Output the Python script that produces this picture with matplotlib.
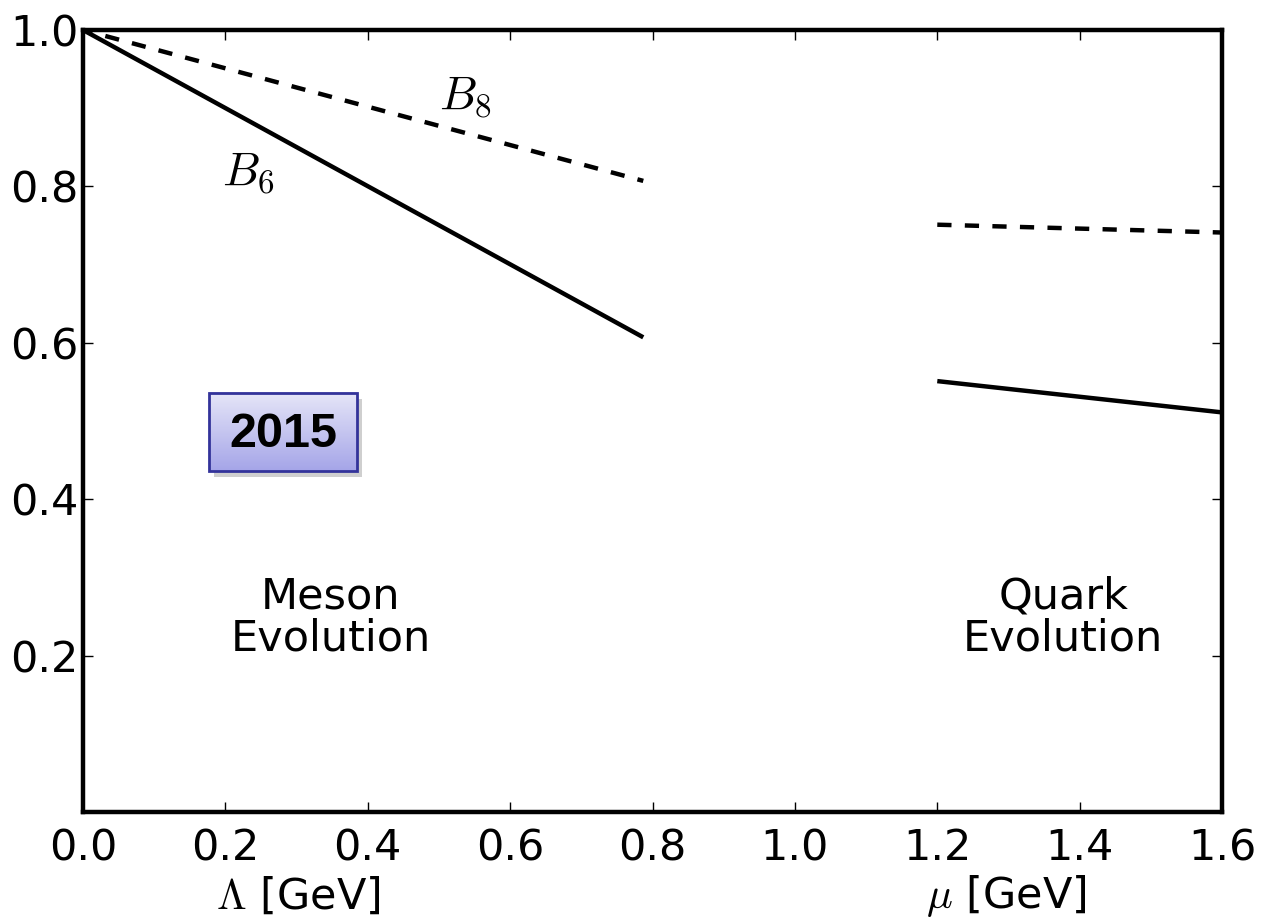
import numpy as np
import matplotlib
matplotlib.use('Agg')
import matplotlib.pyplot as plt
from matplotlib.patches import Rectangle

plt.rcParams['mathtext.fontset'] = 'cm'
plt.rcParams['font.family'] = 'DejaVu Sans'

# Meson evolution (Lambda scale)
meson_x = [0.0, 0.787]
meson_B6 = [1.0, 0.607]
meson_B8 = [1.0, 0.807]

# Quark evolution (mu scale)
quark_x = [1.2, 1.6]
quark_B6 = [0.551, 0.511]
quark_B8 = [0.751, 0.741]

xticks = [0.0, 0.2, 0.4, 0.6, 0.8, 1.0, 1.2, 1.4, 1.6]
yticks = [0.2, 0.4, 0.6, 0.8, 1.0]

fig = plt.figure(figsize=(12.69, 9.19), dpi=100)
ax = fig.add_axes([0.0654, 0.1164, 0.8976, 0.851])

ax.plot(meson_x, meson_B6, color='black', lw=3.2, solid_capstyle='butt')
ax.plot(meson_x, meson_B8, color='black', lw=3.2, ls=(1.0, (3.2, 3.0)))
ax.plot(quark_x, quark_B6, color='black', lw=3.2, solid_capstyle='butt')
ax.plot(quark_x, quark_B8, color='black', lw=3.2, ls=(0, (3.2, 3.0)))

ax.text(0.195, 0.818, r'$B_6$', fontsize=34, ha='left', va='center')
ax.text(0.50, 0.915, r'$B_8$', fontsize=34, ha='left', va='center')

ax.text(0.348, 0.249, 'Meson\nEvolution', fontsize=31, ha='center', va='center',
        linespacing=1.0)
ax.text(1.377, 0.249, 'Quark\nEvolution', fontsize=31, ha='center', va='center',
        linespacing=1.0)

# "2015" badge with gradient fill and shadow
bx0, bx1 = (209 - 83) / 1139, (357 - 83) / 1139
by0, by1 = (812 - 471) / 782, (812 - 393) / 782
shadow = Rectangle((bx0 + 0.004, by0 - 0.008), bx1 - bx0, by1 - by0,
                   transform=ax.transAxes, facecolor='#a8a8a8', edgecolor='none',
                   alpha=0.55, zorder=3)
ax.add_patch(shadow)
top = np.array([230, 230, 248]) / 255
bot = np.array([165, 165, 232]) / 255
t = np.linspace(0, 1, 100)[:, None]
grad = (top[None, :] * (1 - t) + bot[None, :] * t)[:, None, :]
ax.imshow(grad, extent=(bx0, bx1, by0, by1), transform=ax.transAxes,
          aspect='auto', zorder=4, interpolation='bilinear')
ax.add_patch(Rectangle((bx0, by0), bx1 - bx0, by1 - by0, transform=ax.transAxes,
                       facecolor='none', edgecolor='#33339a', lw=2, zorder=5))
ax.text((bx0 + bx1) / 2, (by0 + by1) / 2 - 0.003, '2015', transform=ax.transAxes,
        fontsize=35, fontweight='bold', family='Liberation Sans',
        ha='center', va='center', zorder=6)

ax.set_xlim(0, 1.6)
ax.set_ylim(0, 1.0)
ax.set_xticks(xticks)
ax.set_yticks(yticks)
ax.set_xticklabels(['%.1f' % v for v in xticks])
ax.set_yticklabels(['%.1f' % v for v in yticks])
ax.tick_params(direction='in', length=7, width=1, labelsize=31, top=True, right=True)
ax.tick_params(axis='x', pad=11)
ax.tick_params(axis='y', pad=3)
for s in ax.spines.values():
    s.set_linewidth(3.2)

ax.text(0.302, -0.108, r'$\Lambda$ [GeV]', fontsize=31, ha='center', va='center',
        transform=ax.get_xaxis_transform())
ax.text(1.297, -0.108, r'$\mu$ [GeV]', fontsize=31, ha='center', va='center',
        transform=ax.get_xaxis_transform())

fig.savefig('out.png', dpi=100)
